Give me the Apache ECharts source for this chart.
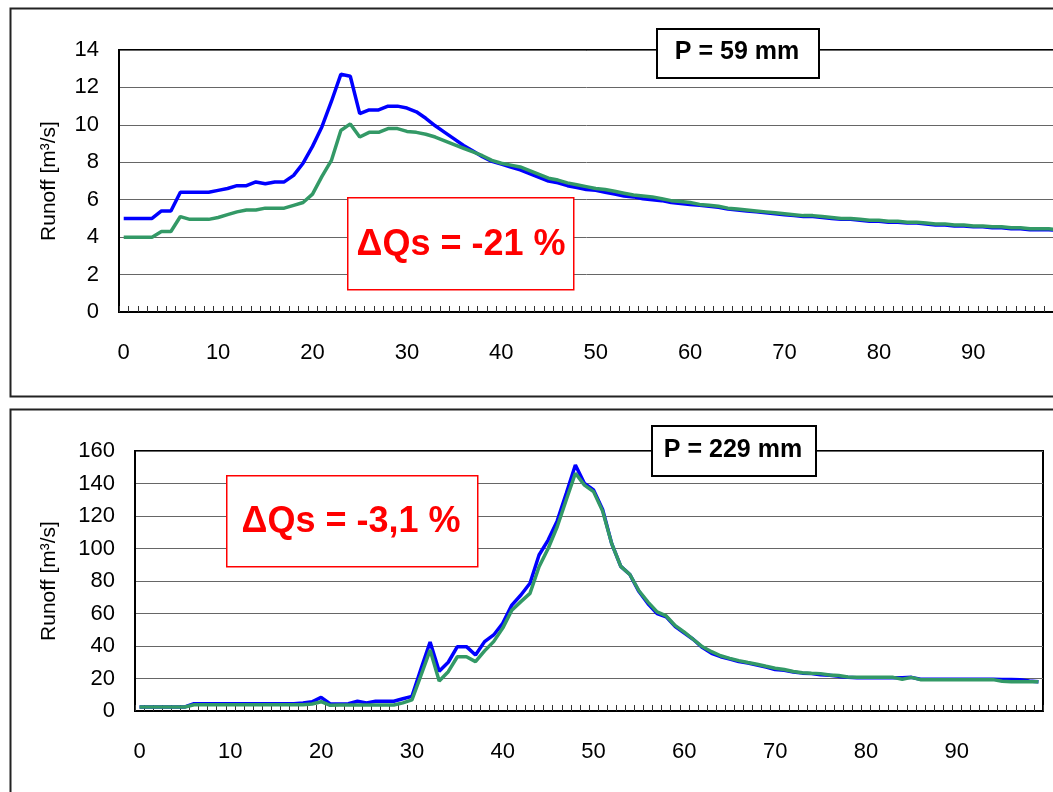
<!DOCTYPE html>
<html lang="en">
<head>
    <meta charset="UTF-8">
    <title>Runoff</title>
    <script src="https://cdn.jsdelivr.net/npm/echarts@6.0.0/dist/echarts.min.js"></script>
    <style>
        body { margin: 0; background: #fff; }
    </style>
</head>
<body>
<div id="main" style="width: 1053px;height:792px;"></div>
<script type="text/javascript">
    // time steps 0..99
    var steps = [];
    for (var k = 0; k < 100; k++) steps.push(String(k));

    // P = 59 mm
    var topBlue = [5.0, 5.0, 5.0, 5.0, 5.4, 5.4, 6.4, 6.4, 6.4, 6.4,
        6.5, 6.6, 6.75, 6.75, 6.95, 6.85, 6.95, 6.95, 7.3, 7.95,
        8.85, 9.9, 11.25, 12.7, 12.6, 10.6, 10.8, 10.8, 11.0, 11.0,
        10.9, 10.7, 10.35, 9.95, 9.6, 9.25, 8.9, 8.6, 8.3, 8.05,
        7.9, 7.75, 7.6, 7.4, 7.2, 7.0, 6.9, 6.75, 6.65, 6.55,
        6.5, 6.4, 6.3, 6.2, 6.15, 6.05, 6.0, 5.95, 5.85, 5.8,
        5.75, 5.7, 5.65, 5.6, 5.5, 5.45, 5.4, 5.35, 5.3, 5.25,
        5.2, 5.15, 5.1, 5.1, 5.05, 5.0, 4.95, 4.95, 4.9, 4.85,
        4.85, 4.8, 4.8, 4.75, 4.75, 4.7, 4.65, 4.65, 4.6, 4.6,
        4.55, 4.55, 4.5, 4.5, 4.45, 4.45, 4.4, 4.4, 4.4, 4.35];
    var topGreen = [4.0, 4.0, 4.0, 4.0, 4.3, 4.3, 5.1, 4.95, 4.95, 4.95,
        5.05, 5.2, 5.35, 5.45, 5.45, 5.55, 5.55, 5.55, 5.7, 5.85,
        6.3, 7.25, 8.1, 9.7, 10.05, 9.35, 9.6, 9.6, 9.8, 9.8,
        9.65, 9.6, 9.5, 9.35, 9.15, 8.95, 8.75, 8.55, 8.35, 8.1,
        7.95, 7.85, 7.75, 7.55, 7.35, 7.15, 7.05, 6.9, 6.8, 6.7,
        6.6, 6.55, 6.45, 6.35, 6.25, 6.2, 6.15, 6.05, 5.95, 5.9,
        5.85, 5.75, 5.7, 5.65, 5.55, 5.5, 5.45, 5.4, 5.35, 5.3,
        5.25, 5.2, 5.15, 5.15, 5.1, 5.05, 5.0, 5.0, 4.95, 4.9,
        4.9, 4.85, 4.85, 4.8, 4.8, 4.75, 4.7, 4.7, 4.65, 4.65,
        4.6, 4.6, 4.55, 4.55, 4.5, 4.5, 4.45, 4.45, 4.45, 4.4];

    // P = 229 mm
    var botBlue = [2.5, 2.5, 2.5, 2.5, 2.5, 2.5, 4.5, 4.5, 4.5, 4.5,
        4.5, 4.5, 4.5, 4.5, 4.5, 4.5, 4.5, 4.5, 5.0, 5.7,
        8.4, 4.3, 4.3, 4.5, 6.0, 5.0, 6.0, 6.0, 6.0, 7.5,
        9.0, 26, 42.5, 24.5, 30, 39.6, 39.6, 34.5, 42.7, 46.8,
        54, 65.2, 71.4, 78.6, 96, 105.2, 117, 134, 151.4, 140,
        136, 124, 103, 89, 84, 73.5, 66, 60, 58, 52,
        48, 44, 39, 35.5, 33.4, 32, 30.5, 29.5, 28.3, 27,
        25.5, 25, 24, 23.3, 23, 22.3, 22, 21.3, 20.7, 20.5,
        20.5, 20.5, 20.5, 20.5, 20.5, 20.7, 19.5, 19.5, 19.5, 19.5,
        19.5, 19.5, 19.5, 19.5, 19.5, 19.4, 19.4, 19.3, 18.5, 18];
    var botGreen = [2.5, 2.5, 2.5, 2.5, 2.5, 2.5, 3.8, 3.8, 3.8, 3.8,
        3.8, 3.8, 3.8, 3.8, 3.8, 3.8, 3.8, 3.8, 3.8, 4.3,
        5.7, 3.5, 3.7, 3.7, 3.7, 3.7, 3.7, 3.7, 3.7, 5.0,
        6.8, 22, 37.5, 18.5, 24.2, 33.4, 33.4, 30.4, 37, 42.7,
        51, 62, 67.3, 72.4, 88.8, 100, 113.4, 130, 146.3, 139,
        135, 123, 103, 89, 84, 74, 67, 61, 58.5, 52.5,
        48.5, 44, 39.5, 36.5, 34, 32.4, 31, 29.8, 28.8, 27.5,
        26.3, 25.5, 24.3, 23.6, 23.2, 23, 22.2, 21.8, 20.9, 20.7,
        20.7, 20.7, 20.7, 20.7, 19.5, 20.7, 19.3, 19.3, 19.3, 19.3,
        19.3, 19.3, 19.3, 19.3, 19.3, 18.3, 18, 18, 18, 18];

    var topTexts = ['P = 59 mm', '\u0394Qs = -21 %'];
    var botTexts = ['P = 229 mm', '\u0394Qs = -3,1 %'];
    var yName = 'Runoff [m\u00b3/s]';

    var font = '"Liberation Sans", Arial, sans-serif';
    var blue = '#0000ff';
    var green = '#339966';

    function xAxisFor(idx) {
        return {
            type: 'category', gridIndex: idx, data: steps, boundaryGap: true,
            axisLine: { lineStyle: { color: '#000', width: 2 } },
            axisTick: { show: true, inside: true, interval: 0, length: 6, lineStyle: { color: '#333', width: 1 } },
            axisLabel: { interval: 9, margin: 30, fontSize: 22, color: '#000', fontFamily: font },
            splitLine: { show: false }
        };
    }
    function yAxisFor(idx, max, step, gap) {
        return {
            type: 'value', gridIndex: idx, min: 0, max: max, interval: step,
            name: yName, nameLocation: 'middle', nameGap: gap, nameRotate: 90,
            nameTextStyle: { fontSize: 21, color: '#000', fontFamily: font },
            axisLine: { show: true, lineStyle: { color: '#000', width: 2 } },
            axisTick: { show: false },
            axisLabel: { margin: 20, fontSize: 22, color: '#000', fontFamily: font },
            splitLine: { lineStyle: { color: '#666', width: 1 } }
        };
    }
    function box(x, y, w, h, color, lw) {
        return { type: 'rect', left: x, top: y, z: 100,
            shape: { width: w, height: h },
            style: { fill: '#fff', stroke: color, lineWidth: lw } };
    }
    function label(x, y, text, color, size) {
        return { type: 'text', x: x, y: y, z: 101,
            style: { text: text, fill: color, font: 'bold ' + size + 'px ' + font,
                textAlign: 'center', textVerticalAlign: 'middle' } };
    }

    var myChart = echarts.init(document.getElementById('main'));
    var option = {
        animation: false,
        backgroundColor: '#fff',
        grid: [
            { left: 119, top: 50, width: 944, height: 262, show: true, borderColor: '#000', borderWidth: 2, outerBoundsMode: 'none' },
            { left: 135, top: 451, width: 908, height: 260, show: true, borderColor: '#000', borderWidth: 2, outerBoundsMode: 'none' }
        ],
        xAxis: [xAxisFor(0), xAxisFor(1)],
        yAxis: [yAxisFor(0, 14, 2, 59), yAxisFor(1, 160, 20, 75)],
        series: [
            { type: 'line', xAxisIndex: 0, yAxisIndex: 0, data: topBlue, symbol: 'none', lineStyle: { color: blue, width: 3.5 } },
            { type: 'line', xAxisIndex: 0, yAxisIndex: 0, data: topGreen, symbol: 'none', lineStyle: { color: green, width: 3.5 } },
            { type: 'line', xAxisIndex: 1, yAxisIndex: 1, data: botBlue, symbol: 'none', lineStyle: { color: blue, width: 3.5 } },
            { type: 'line', xAxisIndex: 1, yAxisIndex: 1, data: botGreen, symbol: 'none', lineStyle: { color: green, width: 3.5 } }
        ],
        graphic: [
            // outer chart frames
            { type: 'rect', left: 8, top: 6, z: -1, shape: { width: 1070, height: 388 }, style: { fill: 'none', stroke: '#222', lineWidth: 2 } },
            { type: 'rect', left: 8, top: 407, z: -1, shape: { width: 1070, height: 400 }, style: { fill: 'none', stroke: '#222', lineWidth: 2 } },
            box(656, 28, 162, 49, '#000', 2),
            label(737, 52, topTexts[0], '#000', 25),
            box(347, 197, 226, 92, '#ff0000', 1.5),
            label(461, 245, topTexts[1], '#ff0000', 36),
            box(651, 425, 164, 50, '#000', 2),
            label(733, 450, botTexts[0], '#000', 25),
            box(226, 475, 251, 91, '#ff0000', 1.5),
            label(351, 522, botTexts[1], '#ff0000', 36)
        ]
    };
    myChart.setOption(option);
</script>
</body>
</html>
